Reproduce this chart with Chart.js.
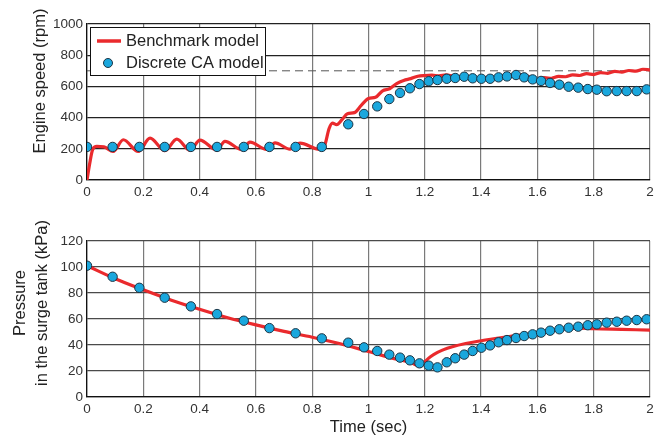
<!DOCTYPE html>
<html>
<head>
<meta charset="utf-8">
<script src="https://cdn.jsdelivr.net/npm/chart.js@4"></script>
<style>
  html, body { margin: 0; padding: 0; background: #fff; }
  #wrap { position: relative; width: 664px; height: 439px; }
  #speedChart { position: absolute; left: 0; top: 0; }
  #pressChart { position: absolute; left: 0; top: 205px; }
</style>
</head>
<body>
<div id="wrap">
  <canvas id="speedChart" width="664" height="205" style="width:664px;height:205px"></canvas>
  <canvas id="pressChart" width="664" height="234" style="width:664px;height:234px"></canvas>
</div>
<script>
  // discrete CA model samples (same instants for both plots)
  const caTime = [0, 0.091, 0.186, 0.276, 0.369, 0.462, 0.557, 0.648, 0.741, 0.834,
    0.928, 0.984, 1.031, 1.074, 1.112, 1.147, 1.181, 1.214, 1.245, 1.278, 1.308,
    1.340, 1.370, 1.401, 1.432, 1.462, 1.492, 1.524, 1.553, 1.583, 1.613, 1.645,
    1.678, 1.711, 1.745, 1.779, 1.811, 1.846, 1.882, 1.917, 1.953, 1.988];
  const caSpeed = [212, 212, 212, 212, 212, 212, 212, 212, 212, 212,
    357, 423, 472, 519, 558, 588, 615, 633, 641, 649, 654,
    662, 652, 649, 649, 658, 664, 673, 658, 645, 635, 622,
    611, 598, 592, 583, 579, 569, 570, 570, 570, 581];
  const caPressure = [101, 92.5, 84, 76.4, 69.7, 63.8, 58.7, 53, 49, 45.1,
    41.8, 38.2, 35.4, 32.6, 30.3, 28.2, 25.9, 24.1, 22.8, 26.7, 29.8,
    32.6, 35.4, 37.9, 39.7, 42.1, 43.8, 45.4, 46.9, 48.2, 49.5, 51,
    52.1, 53.3, 54.1, 55.2, 55.9, 57.2, 57.9, 58.7, 59.2, 59.8];

  // benchmark model, engine speed
  const benchSpeedTime = [0, 0.01, 0.02, 0.035, 0.06, 0.093, 0.129, 0.182, 0.224, 0.277,
    0.319, 0.366, 0.401, 0.461, 0.49, 0.55, 0.579, 0.638, 0.668, 0.721, 0.757, 0.826,
    0.845, 0.86, 0.872, 0.887, 0.905, 0.925, 0.95, 0.975, 1.0, 1.025, 1.05, 1.075,
    1.1, 1.125, 1.15, 1.175, 1.2, 1.225, 1.25, 1.275, 1.3, 1.325, 1.35, 1.375, 1.4,
    1.425, 1.45, 1.475, 1.5, 1.525, 1.55, 1.575, 1.6, 1.625, 1.65, 1.675, 1.7, 1.725,
    1.75, 1.775, 1.8, 1.825, 1.85, 1.875, 1.9, 1.925, 1.95, 1.975, 2.0];
  const benchSpeed = [0, 110, 195, 215, 212, 183, 258, 183, 268, 188,
    262, 190, 256, 192, 248, 195, 243, 196, 238, 198, 236, 196,
    225, 330, 365, 355, 385, 425, 432, 480, 522, 530, 572, 585,
    618, 638, 650, 665, 670, 672, 668, 674, 666, 662, 654, 656, 650,
    660, 658, 668, 664, 676, 672, 660, 646, 656, 652, 664, 662, 674,
    670, 682, 676, 688, 684, 696, 692, 702, 698, 710, 706];

  // benchmark model, surge tank pressure
  const benchPressTime = [0, 0.1, 0.2, 0.3, 0.4, 0.5, 0.6, 0.7, 0.8, 0.9, 1.0, 1.1,
    1.15, 1.185, 1.2, 1.22, 1.28, 1.4, 1.5, 1.6, 1.7, 1.75, 1.8, 1.9, 2.0];
  const benchPressure = [101, 91, 82.5, 74.5, 67.5, 61, 55.5, 50.5, 46, 41, 35, 29,
    26.5, 23.5, 27, 31, 37.5, 43.3, 46.5, 49.2, 52.5, 53, 52.5, 52, 51.5];

  const refSpeed = 700;
  const timeTicks = [0, 0.2, 0.4, 0.6, 0.8, 1, 1.2, 1.4, 1.6, 1.8, 2];

  const RED = '#ea2a2d';
  const CYAN = '#1aa7dd';
  const FONT = "'Liberation Sans', Arial, sans-serif";
  const pts = (xs, ys) => xs.map((x, i) => ({ x: x, y: ys[i] }));

  const legendBox = {
    id: 'legendBox',
    afterDraw(chart) {
      const c = chart.ctx;
      const ds = chart.data.datasets;
      c.save();
      c.fillStyle = '#fff';
      c.fillRect(90, 27, 175, 48);
      c.strokeStyle = '#111';
      c.lineWidth = 1;
      c.strokeRect(90.5, 27.5, 175, 48);
      c.strokeStyle = RED;
      c.lineWidth = 3.5;
      c.beginPath(); c.moveTo(97, 41); c.lineTo(121, 41); c.stroke();
      c.fillStyle = CYAN; c.strokeStyle = '#1c3444'; c.lineWidth = 1;
      c.beginPath(); c.arc(108, 63, 4.5, 0, Math.PI * 2); c.fill(); c.stroke();
      c.fillStyle = '#222';
      c.font = '16.5px ' + FONT;
      c.textBaseline = 'middle';
      c.fillText(ds[1].label, 126, 41);
      c.fillText(ds[2].label, 126, 63);
      c.restore();
    }
  };

  const yTitle = {
    id: 'yTitle',
    afterDraw(chart, args, opts) {
      const c = chart.ctx;
      c.save();
      c.fillStyle = '#222';
      c.font = '16.5px ' + FONT;
      c.textAlign = 'center';
      c.textBaseline = 'middle';
      opts.lines.forEach((t, i) => {
        c.save();
        c.translate(opts.x + i * opts.gap, opts.y);
        c.rotate(-Math.PI / 2);
        c.fillText(t, 0, 0);
        c.restore();
      });
      c.restore();
    }
  };

  const plain = v => String(Math.round(v * 1000) / 1000);

  function xScale(withTitle) {
    return {
      type: 'linear', min: 0, max: 2,
      afterBuildTicks: s => { s.ticks = timeTicks.map(v => ({ value: v })); },
      afterFit: s => { s.height = withTitle ? 42 : 25; },
      grid: { color: '#7a7a7a', lineWidth: 1.2, drawTicks: false },
      border: { color: '#111', width: 1.3 },
      ticks: { color: '#333', font: { family: FONT, size: 13.5 }, padding: 4, maxRotation: 0,
        callback: plain },
      title: { display: withTitle, text: 'Time (sec)', color: '#222',
        font: { family: FONT, size: 16.5 }, padding: { top: 0, bottom: 2 } }
    };
  }
  function yScale(max, step, gridColor) {
    return {
      min: 0, max: max,
      afterFit: s => { s.width = 87; },
      grid: { color: gridColor, lineWidth: 1.2, drawTicks: false },
      border: { color: '#111', width: 1.3 },
      ticks: { stepSize: step, color: '#333', font: { family: FONT, size: 13.5 }, padding: 4,
        callback: plain }
    };
  }

  const markerStyle = {
    showLine: false, pointRadius: 4.7, pointHoverRadius: 4.7,
    pointBackgroundColor: CYAN, pointBorderColor: '#1c3444', pointBorderWidth: 1
  };
  const lineStyle = {
    borderColor: RED, borderWidth: 3.2, pointRadius: 0,
    cubicInterpolationMode: 'monotone', fill: false
  };

  new Chart(document.getElementById('speedChart'), {
    type: 'scatter',
    data: {
      datasets: [
        { label: 'ref', data: pts([0, 2], [refSpeed, refSpeed]), showLine: true,
          borderColor: '#555', borderWidth: 1, borderDash: [8, 5], pointRadius: 0, order: 3 },
        Object.assign({ label: 'Benchmark model', data: pts(benchSpeedTime, benchSpeed),
          showLine: true, order: 2 }, lineStyle),
        Object.assign({ label: 'Discrete CA model', data: pts(caTime, caSpeed), order: 1 }, markerStyle)
      ]
    },
    options: {
      responsive: false, animation: false,
      layout: { padding: { top: 24, right: 14, left: 0, bottom: 0 } },
      plugins: { legend: { display: false }, tooltip: { enabled: false },
        yTitle: { lines: ['Engine speed (rpm)'], x: 40, y: 81, gap: 0 } },
      scales: { x: xScale(false), y: yScale(1000, 200, '#222') }
    },
    plugins: [yTitle, legendBox]
  });

  new Chart(document.getElementById('pressChart'), {
    type: 'scatter',
    data: {
      datasets: [
        Object.assign({ label: 'Benchmark model', data: pts(benchPressTime, benchPressure),
          showLine: true, order: 2 }, lineStyle),
        Object.assign({ label: 'Discrete CA model', data: pts(caTime, caPressure), order: 1 }, markerStyle)
      ]
    },
    options: {
      responsive: false, animation: false,
      layout: { padding: { top: 36, right: 14, left: 0, bottom: 0 } },
      plugins: { legend: { display: false }, tooltip: { enabled: false },
        yTitle: { lines: ['Pressure', 'in the surge tank (kPa)'], x: 20, y: 98, gap: 22 } },
      scales: { x: xScale(true), y: yScale(120, 20, '#4a4a4a') }
    },
    plugins: [yTitle]
  });
</script>
</body>
</html>
